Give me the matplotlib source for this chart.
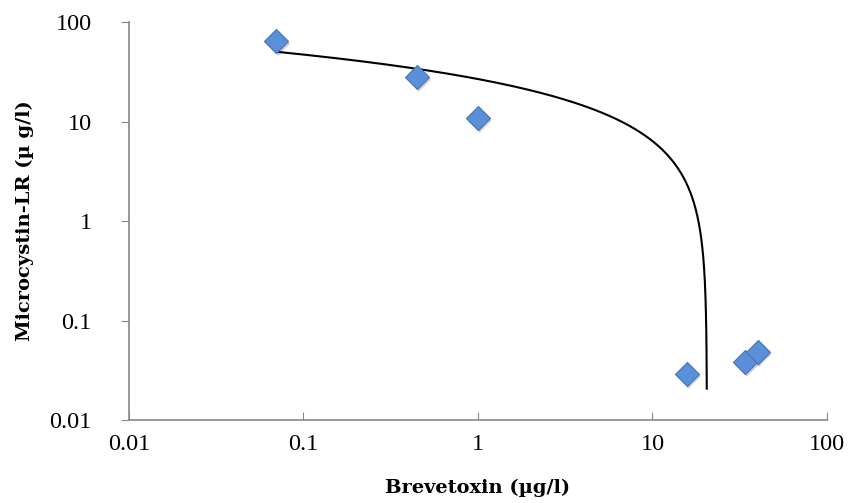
import numpy as np
import matplotlib
matplotlib.use("Agg")
import matplotlib.pyplot as plt
import matplotlib.transforms as mtransforms

brevetoxin = [0.07, 0.45, 1.0, 15.8, 34.0, 40.0]
microcystin = [64.0, 28.0, 10.8, 0.029, 0.038, 0.048]
x_ticks = [0.01, 0.1, 1, 10, 100]
x_labels = ["0.01", "0.1", "1", "10", "100"]
y_ticks = [0.01, 0.1, 1, 10, 100]
y_labels = ["0.01", "0.1", "1", "10", "100"]

plt.rcParams['font.family'] = ['Liberation Serif', 'DejaVu Serif']

fig = plt.figure(figsize=(8.6, 5.03), dpi=100)
ax = fig.add_axes([0.150, 0.165, 0.8116, 0.791])

# logarithmic trendline (y = a + b ln x), fitted to the data
bx = np.array(brevetoxin)
my = np.array(microcystin)
b, a = np.polyfit(np.log(bx), my, 1)
xs = np.geomspace(bx.min(), bx.max(), 4000)
ys = a + b * np.log(xs)
mask = ys > 0.015
ax.plot(xs[mask], ys[mask], color='black', lw=1.5, zorder=2)

# subtle shadow
shadow = mtransforms.offset_copy(ax.transData, fig=fig, x=1.5, y=-2.5, units='dots')
ax.scatter(bx, my, marker='D', s=150, facecolor='#000000', alpha=0.18,
           edgecolor='none', transform=shadow, zorder=2.5)
ax.scatter(bx, my, marker='D', s=150, facecolor='#5b8fd9', edgecolor='#4673b8',
           linewidth=0.8, zorder=3)

ax.set_xscale('log')
ax.set_yscale('log')
ax.set_xlim(0.01, 100)
ax.set_ylim(0.01, 100)
ax.set_xticks(x_ticks)
ax.set_xticklabels(x_labels)
ax.set_yticks(y_ticks)
ax.set_yticklabels(y_labels)
ax.minorticks_off()

for s in ['top', 'right']:
    ax.spines[s].set_visible(False)
for s in ['left', 'bottom']:
    ax.spines[s].set_color('#888888')
    ax.spines[s].set_linewidth(1.2)

ax.tick_params(axis='x', direction='in', length=6, color='#888888', labelsize=17.5, pad=10)
ax.tick_params(axis='y', direction='out', length=6, color='#888888', labelsize=17.5, pad=21)

ax.set_xlabel('Brevetoxin (µg/l)', fontsize=14, fontweight='bold',
              family='DejaVu Serif')
ax.set_ylabel('Microcystin-LR (µ g/l)', fontsize=14, fontweight='bold',
              family='DejaVu Serif')
ax.yaxis.set_label_coords(-0.136, 0.5)
ax.xaxis.set_label_coords(0.5, -0.148)

fig.savefig('out.png', dpi=100)
